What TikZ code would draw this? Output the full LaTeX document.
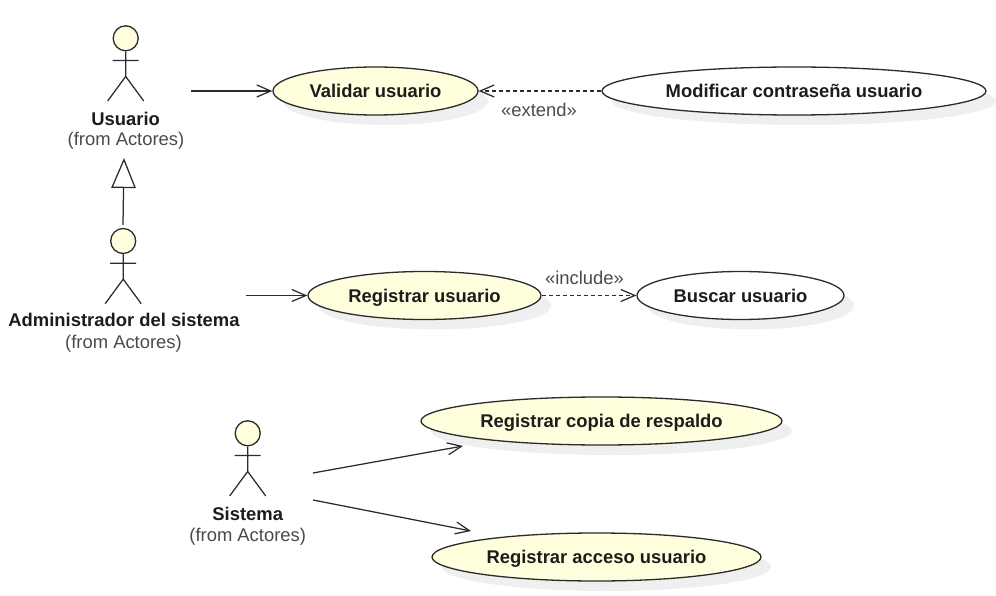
\documentclass[tikz,border=0pt]{standalone}
\usepackage{fontspec}
\setmainfont{Liberation Sans}
\usetikzlibrary{arrows.meta,shapes.geometric,shadows}
\definecolor{ucfill}{HTML}{FFFFDD}
\definecolor{ucline}{HTML}{2B2B2B}
\definecolor{uctext}{HTML}{1C1C1C}
\definecolor{ucgray}{HTML}{4A4A4A}
\definecolor{ucshadow}{HTML}{EFEFEF}
\tikzset{
  x=1pt,y=-1pt,
  usecase/.style={ellipse,draw=ucline,line width=1.3pt,inner sep=0pt,
    text height=15pt,text depth=1.6pt,
    general shadow={shadow xshift=10pt,shadow yshift=-10pt,fill=ucshadow,draw=none},
    font=\fontsize{18.4}{20}\selectfont\bfseries,text=uctext},
  ucyellow/.style={usecase,fill=ucfill},
  ucwhite/.style={usecase,fill=white},
  acthead/.style={circle,draw=ucline,fill=ucfill,line width=1.3pt,minimum size=25pt,inner sep=0pt},
  actline/.style={draw=ucline,line width=1.25pt},
  actname/.style={anchor=base,font=\fontsize{18.4}{20}\selectfont\bfseries,text=uctext,inner sep=0pt},
  actfrom/.style={anchor=base,font=\fontsize{18.4}{20}\selectfont,text=ucgray,inner sep=0pt},
  stereo/.style={anchor=base,font=\fontsize{18.4}{20}\selectfont,text=ucgray,inner sep=0pt},
  assoc/.style={draw=ucline,line width=1.25pt,-{Straight Barb[length=14pt,width=12pt,line width=1.25pt]}},
  dep/.style={assoc,dash pattern=on 4pt off 3pt},
  gener/.style={draw=ucline,line width=1.25pt,-{Triangle[open,length=30pt,width=24.5pt,line width=1.25pt,fill=white]}},
}
\newcommand{\stickman}[3]{%
  \node[acthead] (#1) at (#2,#3) {};
  \draw[actline] (#1.south) -- ++(0,25) coordinate (#1hip)
    (#1.south) ++(-13,9) -- ++(26,0)
    (#1hip) -- ++(-18,24.5)
    (#1hip) -- ++(18,24.5);
}
\begin{document}
\begin{tikzpicture}
\useasboundingbox (0,0) rectangle (996,596);
% use cases
\node[ucyellow,minimum width=205pt,minimum height=48pt] (val) at (375.5,91) {Validar usuario};
\node[ucwhite,minimum width=384pt,minimum height=48pt] (mod) at (794,91) {Modificar contraseña usuario};
\node[ucyellow,minimum width=233pt,minimum height=48pt] (reg) at (424.5,295.5) {Registrar usuario};
\node[ucwhite,minimum width=207pt,minimum height=48pt] (bus) at (740.5,295.5) {Buscar usuario};
\node[ucyellow,minimum width=361pt,minimum height=48pt] (cop) at (601.5,421) {Registrar copia de respaldo};
\node[ucyellow,minimum width=329pt,minimum height=48pt] (acc) at (596.5,557) {Registrar acceso usuario};
% actors
\stickman{usu}{125.7}{38.3}
\stickman{adm}{123.2}{241}
\stickman{sis}{247.7}{433.3}
\node[actname] (usun) at (125.7,126) {Usuario};
\node[actfrom] (usuf) at (126,146) {(from Actores)};
\node[actname] (admn) at (124,326.5) {Administrador del sistema};
\node[actfrom] (admf) at (123.5,348) {(from Actores)};
\node[actname] (sisn) at (247.7,520.5) {Sistema};
\node[actfrom] (sisf) at (247.7,541) {(from Actores)};
% free ends
\coordinate (a1) at (191,91);
\coordinate (a2) at (246,295.5);
\coordinate (a3) at (313,473);
\coordinate (a3e) at (463,446);
\coordinate (a4) at (313,500);
\coordinate (a4e) at (471,531);
\coordinate (g1) at (123,225);
\coordinate (g2) at (124,158);
% connectors
\draw[assoc] (a1) -- (val.west);
\draw[assoc] (a2) -- (reg.west);
\draw[assoc] (a3) -- (a3e);
\draw[assoc] (a4) -- (a4e);
\draw[dep] (mod.west) -- (val.east);
\draw[dep] (reg.east) -- (bus.west);
\draw[gener] (g1) -- (g2);
\node[stereo] (ext) at (539,116.5) {«extend»};
\node[stereo] (inc) at (584.5,284) {«include»};
\end{tikzpicture}
\end{document}
